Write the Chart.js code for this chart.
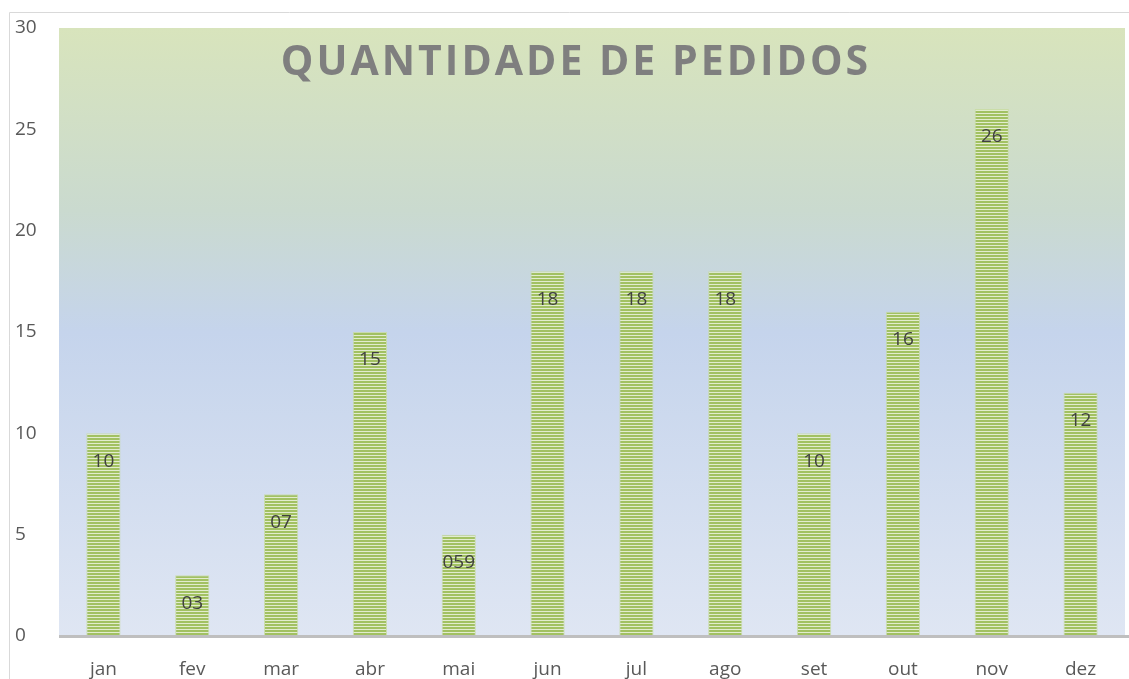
<!DOCTYPE html>
<html>
<head>
<meta charset="utf-8">
<script src="https://cdn.jsdelivr.net/npm/chart.js@4/dist/chart.umd.min.js"></script>
<style>
  html, body { margin: 0; padding: 0; background: #fff; }
  #wrap { width: 1129px; height: 679px; position: relative; }
</style>
</head>
<body>
<div id="wrap"><canvas id="bar-chart"></canvas></div>
<script>
const months = ["jan", "fev", "mar", "abr", "mai", "jun", "jul", "ago", "set", "out", "nov", "dez"];
const pedidos = [10, 3, 7, 15, 5, 18, 18, 18, 10, 16, 26, 12];
const valueLabels = ["10", "03", "07", "15", "059", "18", "18", "18", "10", "16", "26", "12"];
const yTicks = [0, 5, 10, 15, 20, 25, 30];
const chartTitle = "QUANTIDADE DE PEDIDOS";

const barChart = document.getElementById("bar-chart");

// striped green fill for the bars
const stripe = document.createElement("canvas");
stripe.width = 4;
stripe.height = 3;
const sctx = stripe.getContext("2d");
sctx.fillStyle = "#a2c162";
sctx.fillRect(0, 0, 4, 2);
sctx.fillStyle = "#e2ecce";
sctx.fillRect(0, 2, 4, 1);
const stripePattern = sctx.createPattern(stripe, "repeat");

const decor = {
  id: "decor",
  beforeDraw(chart) {
    const { ctx, chartArea: a } = chart;
    ctx.save();
    // outer frame
    ctx.strokeStyle = "#d9d9d9";
    ctx.lineWidth = 1;
    ctx.beginPath();
    ctx.moveTo(9.5, 679);
    ctx.lineTo(9.5, 12.5);
    ctx.lineTo(1129, 12.5);
    ctx.stroke();
    // plot background
    const g = ctx.createLinearGradient(0, a.top, 0, a.bottom);
    g.addColorStop(0, "#d8e4bc");
    g.addColorStop(0.3, "#cadacf");
    g.addColorStop(0.5, "#c5d4ec");
    g.addColorStop(1, "#dfe6f3");
    ctx.fillStyle = g;
    ctx.fillRect(a.left, a.top, a.right - a.left, a.bottom - a.top);
    // title
    ctx.font = "bold 41px 'Open Sans'";
    ctx.letterSpacing = "3px";
    ctx.fillStyle = "#7f7f7f";
    ctx.textAlign = "center";
    ctx.textBaseline = "middle";
    ctx.fillText(chartTitle, 576, 63);
    ctx.restore();
  },
  afterDatasetsDraw(chart) {
    const { ctx, chartArea: a } = chart;
    ctx.save();
    // baseline
    ctx.strokeStyle = "#bfbfbf";
    ctx.lineWidth = 3;
    ctx.beginPath();
    ctx.moveTo(a.left, a.bottom + 0.5);
    ctx.lineTo(1129, a.bottom + 0.5);
    ctx.stroke();
    // value labels
    ctx.font = "19px 'Open Sans'";
    ctx.fillStyle = "#404040";
    ctx.textAlign = "center";
    ctx.textBaseline = "middle";
    chart.getDatasetMeta(0).data.forEach((bar, i) => {
      ctx.fillText(valueLabels[i], bar.x, bar.y + 28);
    });
    ctx.restore();
  },
};

new Chart(barChart, {
  type: "bar",
  data: {
    labels: months,
    datasets: [
      {
        label: "Pedidos",
        data: pedidos,
        backgroundColor: stripePattern,
        borderColor: "rgba(200, 220, 160, 0.8)",
        borderWidth: 1,
        barPercentage: 0.385,
        categoryPercentage: 1,
      },
    ],
  },
  options: {
    responsive: true,
    maintainAspectRatio: false,
    animation: false,
    layout: {
      padding: { left: 15, right: 4, top: 28, bottom: 0 },
    },
    plugins: {
      legend: { display: false },
      tooltip: { enabled: false },
    },
    scales: {
      x: {
        afterFit(axis) {
          axis.height = 43;
        },
        grid: { display: false },
        border: { display: false },
        ticks: {
          color: "#595959",
          font: { family: "'Open Sans'", size: 19 },
          padding: 14,
        },
      },
      y: {
        min: 0,
        max: 30,
        afterBuildTicks(axis) {
          axis.ticks = yTicks.map((v) => ({ value: v }));
        },
        afterFit(axis) {
          axis.width = 44;
        },
        grid: { display: false },
        border: { display: false },
        ticks: {
          crossAlign: "far",
          color: "#595959",
          font: { family: "'Open Sans'", size: 19 },
        },
      },
    },
  },
  plugins: [decor],
});
</script>
</body>
</html>
